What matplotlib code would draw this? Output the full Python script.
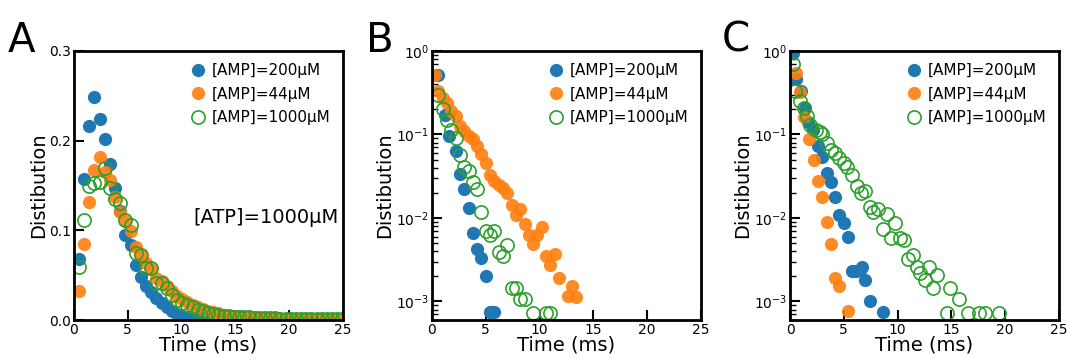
import matplotlib
matplotlib.use('Agg')
import matplotlib.pyplot as plt

# panel A, [ATP]=1000uM, linear scale
tA = [0.46, 0.94, 1.42, 1.90, 2.38, 2.86, 3.34, 3.82, 4.30, 4.78, 5.26, 5.74, 6.22,
      6.70, 7.18, 7.66, 8.14, 8.62, 9.10, 9.58, 10.06, 10.54, 11.02, 11.50, 11.98,
      12.46, 12.94, 13.42, 13.90, 14.38, 14.86, 15.34, 15.82, 16.30, 16.78, 17.26,
      17.74, 18.22, 18.70, 19.18, 19.66, 20.14, 20.62, 21.10, 21.58, 22.06, 22.54,
      23.02, 23.50, 23.98, 24.46, 24.94]
blueA = [0.068, 0.157, 0.216, 0.249, 0.224, 0.202, 0.174, 0.147, 0.122, 0.095, 0.084,
         0.061, 0.048, 0.038, 0.031, 0.025, 0.019, 0.014, 0.010, 0.007, 0.005, 0.0035,
         0.0025, 0.0018, 0.0012, 0.0008]
orangeA = [0.032, 0.085, 0.132, 0.167, 0.182, 0.165, 0.156, 0.137, 0.121, 0.110, 0.099,
           0.081, 0.073, 0.064, 0.058, 0.047, 0.043, 0.038, 0.032, 0.027, 0.023, 0.020,
           0.017, 0.015, 0.012, 0.010, 0.009, 0.008, 0.006, 0.005, 0.0045, 0.004, 0.0035,
           0.003, 0.003, 0.0025, 0.0022, 0.002, 0.0018, 0.0016, 0.0015, 0.0014, 0.0013,
           0.0012, 0.0011, 0.001, 0.001, 0.0009, 0.0009, 0.0008, 0.0008, 0.0007]
greenA = [0.059, 0.112, 0.150, 0.153, 0.154, 0.169, 0.147, 0.135, 0.131, 0.112, 0.106,
          0.075, 0.073, 0.058, 0.058, 0.041, 0.041, 0.036, 0.028, 0.022, 0.019, 0.017,
          0.015, 0.011, 0.010, 0.008, 0.007, 0.006, 0.005, 0.004, 0.0035, 0.003, 0.003,
          0.0035, 0.0025, 0.002, 0.002, 0.0018, 0.0025, 0.0015, 0.0014, 0.0013, 0.0012,
          0.0011, 0.001, 0.001, 0.0009, 0.0009, 0.0008, 0.0008, 0.0007, 0.0007]

# panel B, log scale
tB_blue = [0.6, 1.2, 1.6, 2.2, 2.6, 3.0, 3.4, 3.8, 4.2, 4.6, 5.0, 5.4, 5.6, 5.8]
blueB = [0.51, 0.17, 0.096, 0.064, 0.034, 0.022, 0.013, 0.0066, 0.0043, 0.0033, 0.002,
         0.00074, 0.00074, 0.00074]
tB_orange = [0.3, 0.6, 1.0, 1.4, 1.8, 2.2, 2.6, 3.0, 3.4, 3.8, 4.2, 4.6, 5.0, 5.4, 5.8,
             6.2, 6.6, 7.0, 7.4, 7.8, 8.2, 8.6, 9.0, 9.4, 9.8, 10.2, 10.6, 11.0, 11.4,
             11.8, 12.6, 13.0, 13.4]
orangeB = [0.52, 0.33, 0.27, 0.24, 0.19, 0.165, 0.125, 0.11, 0.096, 0.088, 0.072, 0.059,
           0.045, 0.033, 0.028, 0.025, 0.023, 0.020, 0.0145, 0.011, 0.0129, 0.0085,
           0.0062, 0.0049, 0.0062, 0.0079, 0.0035, 0.0027, 0.0037, 0.0019, 0.00117,
           0.00155, 0.00112]
tB_green = [0.6, 1.0, 1.4, 1.8, 2.2, 2.6, 3.0, 3.4, 3.8, 4.2, 4.6, 5.0, 5.4, 5.8, 6.2,
            6.6, 7.0, 7.4, 7.8, 8.2, 8.6, 9.4, 10.6, 11.0]
greenB = [0.30, 0.20, 0.15, 0.114, 0.091, 0.057, 0.041, 0.037, 0.027, 0.022, 0.0117,
          0.0069, 0.0062, 0.0069, 0.0039, 0.0035, 0.0047, 0.00145, 0.00145, 0.00107,
          0.00107, 0.00072, 0.00072, 0.00072]

# panel C, log scale
tC_blue = [0.3, 0.6, 1.0, 1.4, 1.7, 2.1, 2.6, 3.0, 3.4, 3.8, 4.2, 4.6, 5.0, 5.4, 5.8,
           6.1, 6.5, 6.7, 7.0, 7.4, 8.6]
blueC = [0.95, 0.46, 0.33, 0.21, 0.14, 0.114, 0.072, 0.054, 0.035, 0.027, 0.018, 0.011,
         0.0086, 0.006, 0.0023, 0.0023, 0.0024, 0.0026, 0.0018, 0.00102, 0.00074]
tC_orange = [0.6, 0.9, 1.3, 1.8, 2.2, 2.6, 3.0, 3.4, 3.8, 4.2, 4.6, 5.4]
orangeC = [0.54, 0.32, 0.16, 0.088, 0.05, 0.028, 0.018, 0.0089, 0.0049, 0.0019,
           0.00155, 0.00076]
tC_green = [0.3, 0.5, 0.9, 1.3, 1.6, 1.9, 2.4, 2.8, 3.0, 3.4, 3.8, 4.2, 4.6, 5.0, 5.3,
            5.8, 6.2, 6.6, 7.0, 7.4, 7.7, 8.2, 8.6, 9.0, 9.4, 9.8, 10.2, 10.6, 11.0,
            11.4, 11.8, 12.1, 12.5, 12.9, 13.3, 13.7, 14.6, 14.9, 15.7, 16.5, 17.6,
            18.1, 19.4]
greenC = [0.70, 0.33, 0.25, 0.21, 0.165, 0.13, 0.113, 0.106, 0.10, 0.079, 0.066, 0.06,
          0.052, 0.045, 0.041, 0.033, 0.024, 0.020, 0.021, 0.0135, 0.0118, 0.0128,
          0.0074, 0.0113, 0.0058, 0.0087, 0.0058, 0.0054, 0.0032, 0.0036, 0.0026,
          0.0022, 0.0018, 0.0026, 0.00145, 0.0021, 0.00072, 0.00145, 0.00107, 0.00072,
          0.00072, 0.00072, 0.00072]

labels = ['[AMP]=200μM', '[AMP]=44μM', '[AMP]=1000μM']
blue = '#1f77b4'
orange = '#ff7f0e'
green = '#2ca02c'

fig = plt.figure(figsize=(10.67, 3.58), dpi=100)
lefts = [74, 432, 790]
axes = [fig.add_axes([l / 1067, 38 / 358, 269 / 1067, 269 / 358]) for l in lefts]

panels = [
    (tA[:len(blueA)], blueA, tA, orangeA, tA, greenA),
    (tB_blue, blueB, tB_orange, orangeB, tB_green, greenB),
    (tC_blue, blueC, tC_orange, orangeC, tC_green, greenC),
]

ms = 9.5
for i, ax in enumerate(axes):
    tb, yb, to, yo, tg, yg = panels[i]
    ax.plot(tb, yb, 'o', color=blue, ms=ms, mec='none', label=labels[0])
    ax.plot(to, yo, 'o', color=orange, ms=ms, mec='none', alpha=0.9, label=labels[1])
    ax.plot(tg, yg, 'o', color=green, ms=ms, mfc='none', mew=1.2, label=labels[2])
    ax.set_xlim(0, 25)
    ax.set_xticks([0, 5, 10, 15, 20, 25])
    ax.set_xlabel('Time (ms)', fontsize=14, labelpad=-1)
    ax.set_ylabel('Distibution', fontsize=14, labelpad=1)
    for s in ax.spines.values():
        s.set_linewidth(2)
    ax.tick_params(which='major', direction='in', length=7, width=1.5, labelsize=10, pad=2)
    ax.tick_params(which='minor', direction='in', length=4, width=1)
    ax.legend(loc='upper right', frameon=False, fontsize=11, handletextpad=0.3,
              labelspacing=0.55, borderaxespad=0.4, handlelength=1.2)
    if i == 0:
        ax.set_ylim(0, 0.3)
        ax.set_yticks([0.0, 0.1, 0.2, 0.3])
        ax.text(0.985, 0.38, '[ATP]=1000μM', transform=ax.transAxes, ha='right',
                va='center', fontsize=14)
    else:
        ax.set_yscale('log')
        ax.set_ylim(6e-4, 1)
        ax.set_yticks([1e-3, 1e-2, 1e-1, 1])

for l, letter in zip([8, 366, 722], ['A', 'B', 'C']):
    fig.text(l / 1067, 0.855, letter, fontsize=29)

fig.savefig('out.png', dpi=100)
